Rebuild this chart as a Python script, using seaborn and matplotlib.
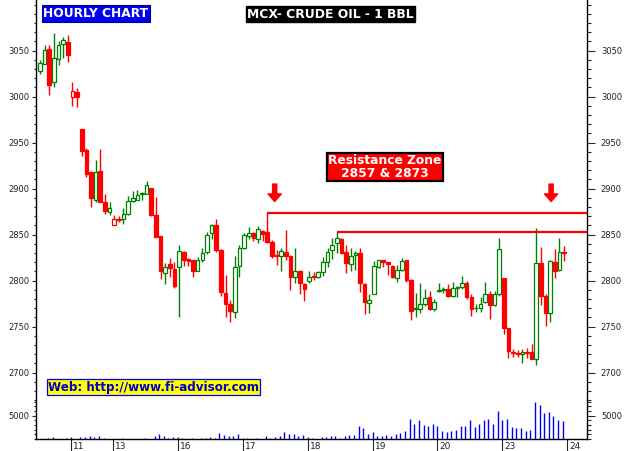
import numpy as np
import matplotlib
matplotlib.use('Agg')
import matplotlib.pyplot as plt
from matplotlib.ticker import MultipleLocator, FixedLocator
import seaborn as sns

sns.set_style('white')
plt.rcParams['font.family'] = ['DejaVu Sans']

# Hourly OHLC, one candle per trading hour
opens = [3028, 3036, 3052, 3016, 3041, 3057, 3059, 3000, 3005,
         2965, 2942, 2918, 2888, 2919, 2885, 2875,
         2860, 2867, 2867, 2872, 2887, 2888, 2895, 2894, 2901, 2871, 2849, 2808, 2818, 2813,
         2815, 2831, 2823.5, 2822, 2811, 2822, 2831, 2852, 2860, 2833, 2787, 2775, 2766, 2816,
         2835, 2849, 2851.5, 2845, 2854, 2853, 2842, 2828, 2827, 2831, 2827, 2804, 2810, 2796,
         2800, 2805, 2804, 2809, 2820, 2833, 2841, 2845, 2831, 2818, 2828, 2830, 2796, 2776,
         2785, 2815, 2822, 2820, 2816, 2803, 2812, 2822.5, 2801, 2770, 2769, 2775, 2782, 2769,
         2790, 2790.5, 2791, 2783, 2792, 2793, 2798, 2782, 2770.5, 2770, 2777, 2786, 2774, 2785,
         2803, 2749, 2722.5, 2721, 2720, 2722.5, 2722, 2715, 2819, 2783, 2765, 2820, 2812, 2831.5]
highs = [3040, 3056, 3056, 3069, 3061, 3065, 3067, 3016, 3009,
         2965, 2944, 2919, 2931, 2943, 2894, 2886,
         2871, 2870, 2879, 2892, 2897, 2899, 2896, 2908, 2901, 2891, 2849, 2819, 2825, 2820,
         2839, 2832, 2825, 2823, 2826, 2836, 2853, 2862, 2867, 2834, 2806, 2779, 2827, 2839,
         2852, 2858, 2853, 2859, 2855, 2874, 2844, 2833, 2835, 2855, 2828, 2835, 2812, 2797,
         2810, 2809, 2810, 2826, 2836, 2846, 2853, 2846, 2839, 2835, 2832, 2835, 2797, 2785,
         2821, 2822.5, 2823, 2820, 2817, 2817, 2825, 2823, 2802, 2787, 2797, 2791, 2789, 2780,
         2797, 2793, 2796, 2799, 2794, 2805, 2800, 2786, 2775, 2782, 2799, 2789, 2789, 2846,
         2803, 2749, 2726, 2725, 2726, 2727, 2731, 2857, 2837, 2786, 2823, 2834, 2846, 2838]
lows = [3025, 3035, 3002, 3011, 3034, 3042, 3038, 2990, 2989,
        2935, 2913, 2880, 2886, 2886, 2872, 2871,
        2860, 2864, 2862, 2871, 2886, 2888, 2888, 2894, 2870, 2847, 2802, 2796, 2804, 2792,
        2761, 2816, 2816, 2804, 2810, 2820, 2829, 2845, 2831, 2783, 2760, 2755, 2759, 2804,
        2834, 2845, 2843, 2841, 2843, 2841, 2825, 2817, 2810, 2822, 2790, 2797, 2786, 2778,
        2797, 2801, 2803, 2805, 2815, 2824, 2830, 2830, 2808, 2810, 2812, 2788, 2764, 2765,
        2785, 2814, 2815, 2806, 2803, 2799, 2810, 2799, 2757, 2761, 2765, 2772, 2768, 2767,
        2788, 2787, 2782, 2782, 2782, 2791, 2780, 2762, 2766, 2766, 2776, 2758, 2773, 2783,
        2742, 2716, 2717, 2717, 2710, 2716, 2715, 2708, 2774, 2751, 2755, 2803, 2810, 2821]
closes = [3037, 3051, 3013, 3042, 3056, 3062, 3045, 3006, 3000,
          2941, 2916, 2890, 2918, 2886, 2876, 2879,
          2867, 2866, 2873, 2887, 2890, 2893, 2894, 2904, 2871, 2848, 2810, 2815, 2814, 2794,
          2832, 2822, 2821.5, 2811, 2823, 2830, 2850, 2860, 2833, 2788, 2775, 2767, 2815, 2835,
          2850, 2852, 2846, 2856, 2851, 2842, 2827, 2826.5, 2832, 2827, 2804, 2810, 2797, 2791,
          2804, 2803.5, 2809, 2820, 2831, 2839, 2846, 2830, 2819, 2827, 2830, 2797, 2777, 2779,
          2816, 2822, 2820, 2818, 2804, 2812, 2821, 2801, 2767, 2769, 2775, 2781, 2769, 2777,
          2789, 2790, 2783, 2792, 2793.5, 2798, 2782, 2769, 2770, 2775, 2786, 2774, 2785, 2834,
          2749, 2724, 2721.5, 2720, 2723, 2721.5, 2715, 2819, 2783, 2765, 2821, 2810, 2831, 2830.5]
volumes = [80, 80, 290, 430, 80, 80, 290, 430, 80,
           430, 430, 570, 430, 640, 290, 80,
           80, 80, 220, 80, 80, 80, 80, 220, 80, 640, 1000, 640, 290, 430,
           430, 220, 80, 220, 80, 220, 220, 430, 290, 1290, 790, 570, 570, 1000,
           290, 220, 80, 220, 80, 570, 290, 430, 570, 1430, 1140, 1000, 570, 820,
           470, 290, 80, 500, 500, 570, 570, 290, 570, 860, 860, 2790, 2430, 1070,
           1500, 640, 640, 860, 720, 1000, 1290, 1790, 4290, 3220, 4010, 3000, 2790, 3220,
           2790, 1650, 1500, 1720, 1930, 2790, 2790, 4010, 2580, 3290, 4010, 4220, 3290, 6010,
           4080, 4220, 2580, 2360, 2360, 1790, 1860, 7940, 7300, 5510, 5720, 4940, 4150, 3930]

day_labels = ['11', '13', '16', '17', '18', '19', '20', '23', '24']
day_start = [7, 16, 30, 44, 58, 72, 86, 100, 114]

res_levels = [2874, 2853]
res_start = [49, 64]
arrow_x = [50.6, 110.2]

o = np.array(opens, float)
h = np.array(highs, float)
l = np.array(lows, float)
c = np.array(closes, float)
x = np.arange(len(c))

RED = '#ff0000'
GREEN = '#008000'
TXT = '#222222'

W, H = 624, 451
fig = plt.figure(figsize=(W / 100, H / 100), dpi=100)


def frac(x0, y0, x1, y1):
    return [x0 / W, 1 - y1 / H, (x1 - x0) / W, (y1 - y0) / H]


ax = fig.add_axes(frac(36, 0, 587, 401))
axv = fig.add_axes(frac(36, 401, 587, 439), sharex=ax)

# candles: colour by close vs previous close, hollow when close >= open
prev = np.r_[o[0], c[:-1]]
col = np.where(c >= prev, GREEN, RED)
face = np.where(c >= o, 'white', col)
ax.vlines(x, l, h, colors=col, linewidth=1.0, zorder=2)
body = np.maximum(np.abs(c - o), 0.3)
ax.bar(x, body, bottom=np.minimum(o, c), width=0.78, color=face,
       edgecolor=col, linewidth=0.9, zorder=3)

# resistance lines
xmax = 117.94
for lev, st in zip(res_levels, res_start):
    ax.hlines(lev, st, xmax, color=RED, linewidth=1.6, zorder=4)
    ax.vlines(st, lev - 1, lev, color=RED, linewidth=1.0, zorder=4)

# arrows
for ax_x in arrow_x:
    ax.annotate('', xy=(ax_x, 2886), xytext=(ax_x, 2905),
                arrowprops=dict(facecolor=RED, edgecolor=RED, width=3.0,
                                headwidth=9.5, headlength=5.5, shrink=0),
                zorder=5)

# volume
axv.vlines(x - 0.3, 0, volumes, colors='#0000ff', linewidth=1.0)

ax.set_xlim(-0.86, xmax)
ax.set_ylim(2669.2, 3105.1)
axv.set_ylim(0, 8155)

# spines
for a in (ax, axv):
    for s in a.spines.values():
        s.set_color('black')
        s.set_linewidth(1.0)
ax.spines['top'].set_visible(False)
ax.spines['bottom'].set_visible(False)
axv.spines['top'].set_visible(False)

ax.tick_params(axis='x', bottom=False, labelbottom=False)


def style_y(a, major, minor_step):
    a.yaxis.set_major_locator(FixedLocator(major))
    a.yaxis.set_minor_locator(MultipleLocator(minor_step))
    a.tick_params(axis='y', which='major', direction='out', length=3, width=0.8,
                  pad=1.5, labelsize=6, labelcolor=TXT, left=True)
    a.tick_params(axis='y', which='minor', direction='out', length=1.6, width=0.8,
                  left=True)


price_ticks = [2700, 2750, 2800, 2850, 2900, 2950, 3000, 3050]
style_y(ax, price_ticks, 10)
style_y(axv, [5000], 1000)

# right hand axis copies
for a, ticks, step in ((ax, price_ticks, 10), (axv, [5000], 1000)):
    r = a.twinx()
    r.set_ylim(a.get_ylim())
    r.yaxis.set_major_locator(FixedLocator(ticks))
    r.yaxis.set_minor_locator(MultipleLocator(step))
    r.tick_params(axis='y', which='major', direction='out', length=5.5, width=0.8,
                  pad=4.5, labelsize=6, labelcolor=TXT)
    r.tick_params(axis='y', which='minor', direction='out', length=2.6, width=0.8)
    for s in r.spines.values():
        s.set_visible(False)

# day ticks on the bottom
axv.set_xticks([d - 0.3 for d in day_start])
axv.tick_params(axis='x', direction='out', length=8.5, width=0.8, labelbottom=False,
                bottom=True)
tr = axv.get_xaxis_transform()
for d, lab in zip(day_start, day_labels):
    axv.text(d + 0.15, -0.19, lab, transform=tr, ha='left', va='center',
             fontsize=6.5, color=TXT, clip_on=False)

# text boxes
fig.text(96 / W, 1 - 13.2 / H, 'HOURLY CHART', ha='center', va='center',
         fontsize=8.8, fontweight='bold', color='white',
         bbox=dict(boxstyle='square,pad=0.15', facecolor='#0000ee', edgecolor='#000080', linewidth=0.8))
fig.text(330.7 / W, 1 - 14.2 / H, 'MCX- CRUDE OIL - 1 BBL', ha='center', va='center',
         fontsize=8.9, fontweight='bold', color='white',
         bbox=dict(boxstyle='square,pad=0.12', facecolor='black', edgecolor='black'))
fig.text(385 / W, 1 - 167 / H, 'Resistance Zone\n2857 & 2873', ha='center', va='center',
         fontsize=8.8, fontweight='bold', color='white', linespacing=0.92,
         bbox=dict(boxstyle='square,pad=0.12', facecolor=RED, edgecolor='black', linewidth=1.6))
fig.text(153.3 / W, 1 - 387 / H, 'Web: http://www.fi-advisor.com', ha='center', va='center',
         fontsize=8.6, fontweight='bold', color='#0000cc',
         bbox=dict(boxstyle='square,pad=0.1', facecolor='#ffff00', edgecolor='#0000ff', linewidth=0.9))

fig.savefig('out.png', dpi=100)
